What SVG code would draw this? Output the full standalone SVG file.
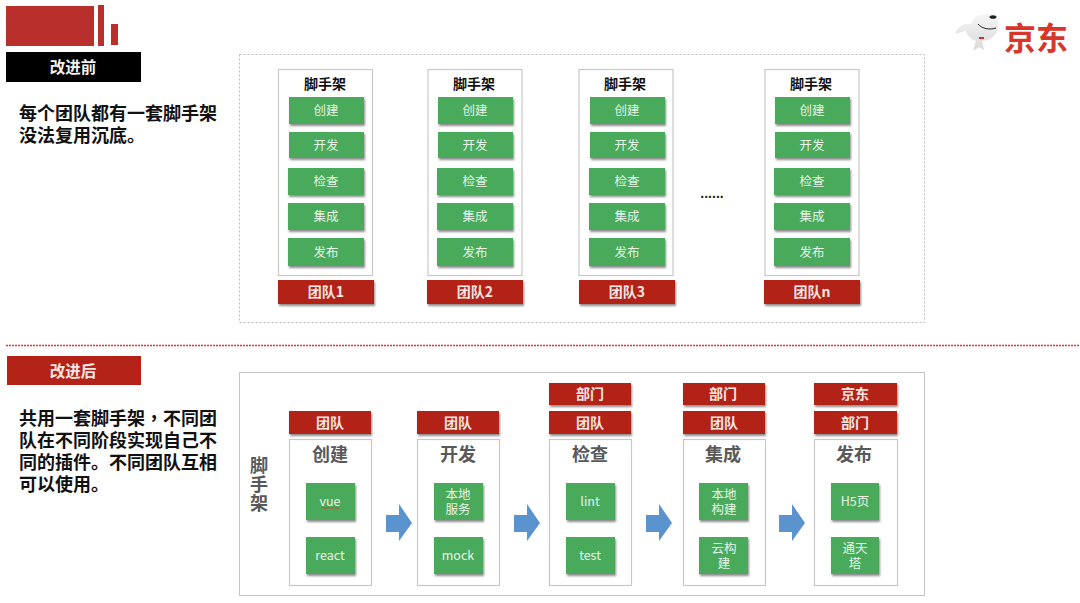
<svg xmlns="http://www.w3.org/2000/svg" width="1080" height="603" viewBox="0 0 1080 603">
<style>
text{font-family:"Noto Sans CJK SC","Liberation Sans",sans-serif;text-anchor:middle;dominant-baseline:central}
.frame{fill:#fff;stroke:#c9c9c9;stroke-width:1.2}
.outer{fill:#fff;stroke:#c4c4c4;stroke-width:1}
.dots{fill:#fff;stroke:#bdbdbd;stroke-width:1;stroke-dasharray:2 2}
.g{fill:#4aaa5b;filter:url(#sh)}
.r{fill:#b32317;filter:url(#sh)}
.gt{fill:#e6f4e8;font-size:12.5px}
.rt{fill:#f4e6e4;font-size:14px;font-weight:700}
.h{fill:#111;font-size:14px;font-weight:700}
.st{fill:#595959;font-size:18px;font-weight:700}
.lead{fill:#111;font-size:18px;font-weight:700;text-anchor:start}
.arrow{fill:#5b93cf}
</style>
<defs>
<filter id="sh" x="-15%" y="-20%" width="130%" height="150%">
<feDropShadow dx="1" dy="2" stdDeviation="1.2" flood-color="#000" flood-opacity=".45"/>
</filter>
<linearGradient id="fur" x1="0" y1="0" x2="0" y2="1">
<stop offset="0" stop-color="#f6f6f6"/><stop offset="1" stop-color="#d9d9d9"/>
</linearGradient>
<g id="stack">
<rect class="g" x="11" y="28" width="75" height="27"/>
<rect class="g" x="11" y="63" width="75" height="26"/>
<rect class="g" x="10" y="99" width="76" height="27"/>
<rect class="g" x="10" y="134" width="76" height="27"/>
<rect class="g" x="10" y="169" width="76" height="28"/>
</g>
</defs>
<rect width="1080" height="603" fill="#fff"/>

<g id="brand-bars" fill="#b92f2b">
<rect x="6" y="6" width="88" height="40"/>
<rect x="98" y="5" width="6" height="41"/>
<rect x="111" y="24" width="7" height="21"/>
</g>
<g id="logo">
<path d="M955 33C959 25 965 23 971 24C973 17 981 13 988 14C996 15 1000 22 998 29C996 37 988 41 982 41L984 50L979 47L973 51L976 41C970 39 967 35 966 31C962 31 958 35 955 33Z" fill="url(#fur)"/>
<ellipse cx="993" cy="17" rx="3.5" ry="1.8" fill="#222"/>
<path d="M978 24C982 29 990 30 996 28" fill="none" stroke="#222" stroke-width="1"/>
<rect x="979" y="37" width="5" height="2" fill="#c9352b"/>
<text x="1036" y="36" font-size="32" font-weight="700" fill="#d8362b">京东</text>
</g>

<g id="before-label">
<rect x="6" y="52" width="135" height="30" fill="#000"/>
<text x="73" y="66" font-size="15.5" font-weight="700" fill="#f2f2f2">改进前</text>
</g>
<text id="before-text" class="lead" x="19" y="112">每个团队都有一套脚手架<tspan x="19" dy="22">没法复用沉底。</tspan></text>
<rect id="before-panel" class="dots" x="239.5" y="54.5" width="685" height="268"/>

<g id="before-team-1">
<rect class="frame" x="278.5" y="69.5" width="94" height="206"/>
<text class="h" x="325" y="83">脚手架</text>
<use href="#stack" x="278" y="69"/>
<text class="gt" x="326" y="109">创建</text><text class="gt" x="326" y="144">开发</text><text class="gt" x="326" y="180">检查</text><text class="gt" x="326" y="215">集成</text><text class="gt" x="326" y="251">发布</text>
<rect class="r" x="278" y="280" width="96" height="24"/>
<text class="rt" x="326" y="291">团队1</text>
</g>
<g id="before-team-2">
<rect class="frame" x="428" y="69.5" width="94" height="206"/>
<text class="h" x="474" y="83">脚手架</text>
<use href="#stack" x="427" y="69"/>
<text class="gt" x="475" y="109">创建</text><text class="gt" x="475" y="144">开发</text><text class="gt" x="475" y="180">检查</text><text class="gt" x="475" y="215">集成</text><text class="gt" x="475" y="251">发布</text>
<rect class="r" x="427" y="280" width="96" height="24"/>
<text class="rt" x="475" y="291">团队2</text>
</g>
<g id="before-team-3">
<rect class="frame" x="579" y="69.5" width="94" height="206"/>
<text class="h" x="625" y="83">脚手架</text>
<use href="#stack" x="579" y="69"/>
<text class="gt" x="627" y="109">创建</text><text class="gt" x="627" y="144">开发</text><text class="gt" x="627" y="180">检查</text><text class="gt" x="627" y="215">集成</text><text class="gt" x="627" y="251">发布</text>
<rect class="r" x="579" y="280" width="96" height="24"/>
<text class="rt" x="627" y="291">团队3</text>
</g>
<text id="ellipsis" x="712" y="193" font-size="14" font-weight="700" fill="#222" style="font-family:'Liberation Sans',sans-serif">......</text>
<g id="before-team-n">
<rect class="frame" x="765" y="69.5" width="94" height="206"/>
<text class="h" x="811" y="83">脚手架</text>
<use href="#stack" x="764" y="69"/>
<text class="gt" x="812" y="109">创建</text><text class="gt" x="812" y="144">开发</text><text class="gt" x="812" y="180">检查</text><text class="gt" x="812" y="215">集成</text><text class="gt" x="812" y="251">发布</text>
<rect class="r" x="764" y="280" width="96" height="24"/>
<text class="rt" x="812" y="291">团队n</text>
</g>

<line id="divider" x1="6" y1="345.5" x2="1080" y2="345.5" stroke="#e8323c" stroke-width="1.4" stroke-dasharray="2 1"/>

<g id="after-label">
<rect x="7" y="356" width="134" height="29" fill="#b32317"/>
<text x="73" y="370" font-size="15.5" font-weight="700" fill="#f4e6e4">改进后</text>
</g>
<text id="after-text" class="lead" x="19" y="417">共用一套脚手架<tspan style="font-family:'Noto Sans CJK TC',sans-serif">，</tspan>不同团<tspan x="19" dy="22">队在不同阶段实现自己不</tspan><tspan x="19" dy="22">同的插件。不同团队互相</tspan><tspan x="19" dy="22">可以使用。</tspan></text>
<rect id="after-panel" class="outer" x="239.5" y="372.5" width="685" height="223"/>
<text id="scaffold-title" class="st" x="259" y="464">脚<tspan x="259" dy="19">手</tspan><tspan x="259" dy="19">架</tspan></text>

<g id="stage-create">
<rect class="r" x="289" y="411" width="82" height="23"/>
<text class="rt" x="330" y="422">团队</text>
<rect class="frame" x="289.5" y="439.5" width="82" height="146"/>
<text class="st" x="330" y="453">创建</text>
<rect class="g" x="306" y="483" width="49" height="37"/>
<text class="gt" x="330" y="500">vue</text>
<path d="M321 508q1.5-1.5 3 0t3 0 3 0 3 0 3 0 3 0" fill="none" stroke="#c8403a" stroke-width=".8"/>
<rect class="g" x="306" y="537" width="49" height="37"/>
<text class="gt" x="330" y="554">react</text>
</g>
<g id="stage-dev">
<rect class="r" x="417" y="411" width="82" height="23"/>
<text class="rt" x="458" y="422">团队</text>
<rect class="frame" x="417.5" y="439.5" width="82" height="146"/>
<text class="st" x="458" y="453">开发</text>
<rect class="g" x="434" y="483" width="49" height="37"/>
<text class="gt" x="458" y="493">本地<tspan x="458" dy="15">服务</tspan></text>
<rect class="g" x="434" y="537" width="49" height="37"/>
<text class="gt" x="458" y="554">mock</text>
</g>
<g id="stage-check">
<rect class="r" x="549" y="383" width="82" height="22"/>
<text class="rt" x="590" y="393">部门</text>
<rect class="r" x="549" y="411" width="82" height="23"/>
<text class="rt" x="590" y="422">团队</text>
<rect class="frame" x="549.5" y="439.5" width="82" height="146"/>
<text class="st" x="590" y="453">检查</text>
<rect class="g" x="566" y="483" width="49" height="37"/>
<text class="gt" x="590" y="500">lint</text>
<rect class="g" x="566" y="537" width="49" height="37"/>
<text class="gt" x="590" y="554">test</text>
</g>
<g id="stage-integrate">
<rect class="r" x="683" y="383" width="82" height="22"/>
<text class="rt" x="723" y="393">部门</text>
<rect class="r" x="683" y="411" width="82" height="23"/>
<text class="rt" x="724" y="422">团队</text>
<rect class="frame" x="683.5" y="439.5" width="82" height="146"/>
<text class="st" x="723" y="453">集成</text>
<rect class="g" x="699" y="483" width="49" height="37"/>
<text class="gt" x="724" y="493">本地<tspan x="724" dy="15">构建</tspan></text>
<rect class="g" x="699" y="537" width="49" height="37"/>
<text class="gt" x="724" y="547">云构<tspan x="724" dy="15">建</tspan></text>
</g>
<g id="stage-release">
<rect class="r" x="814" y="383" width="83" height="22"/>
<text class="rt" x="855" y="393">京东</text>
<rect class="r" x="814" y="411" width="83" height="23"/>
<text class="rt" x="855" y="422">部门</text>
<rect class="frame" x="814.5" y="439.5" width="83" height="146"/>
<text class="st" x="854" y="453">发布</text>
<rect class="g" x="831" y="483" width="48" height="37"/>
<text class="gt" x="855" y="500">H5页</text>
<rect class="g" x="831" y="537" width="48" height="37"/>
<text class="gt" x="855" y="547">通天<tspan x="855" dy="15">塔</tspan></text>
</g>

<g id="connectors">
<polygon class="arrow" points="386,515 399,515 399,504 412,523 399,541 399,532 386,532"/>
<polygon class="arrow" points="514,515 527,515 527,504 540,523 527,541 527,532 514,532"/>
<polygon class="arrow" points="646,515 659,515 659,504 672,523 659,541 659,532 646,532"/>
<polygon class="arrow" points="779,515 792,515 792,504 805,523 792,541 792,532 779,532"/>
</g>
</svg>
